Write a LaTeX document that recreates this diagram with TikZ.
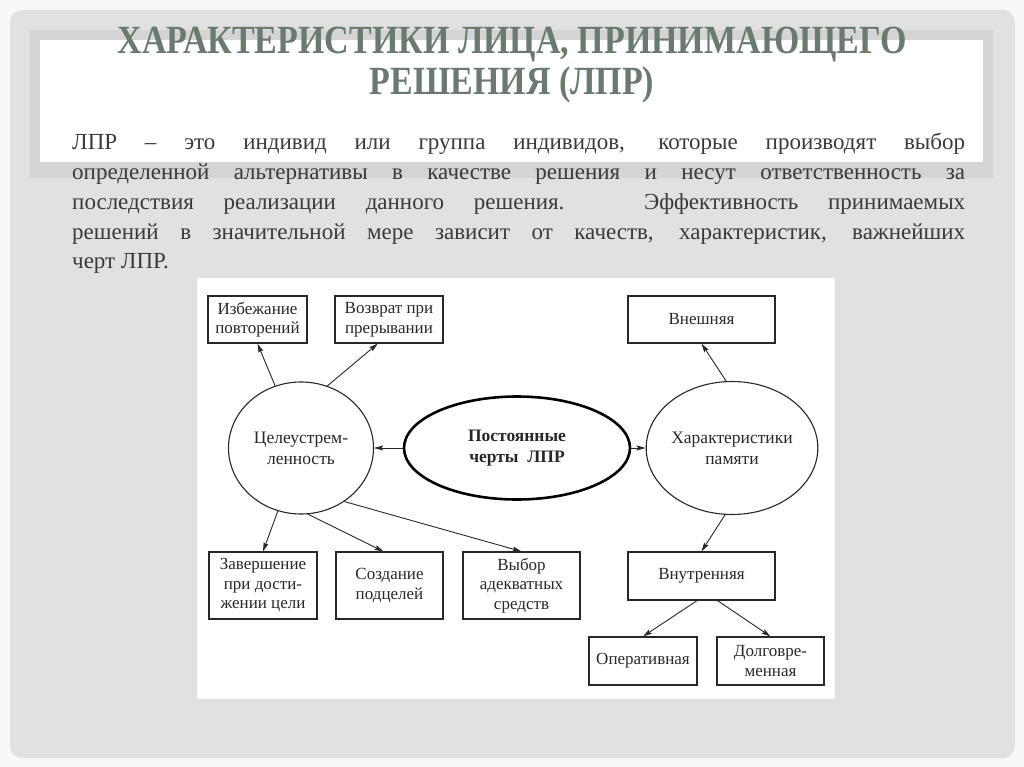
\documentclass[tikz,border=0pt]{standalone}
\usepackage{fontspec}
\setmainfont{Liberation Serif}
\newfontfamily\headfont[FakeStretch=0.85]{Liberation Serif Bold}
\newfontfamily\bodyfont{Liberation Serif}
\usetikzlibrary{arrows.meta,shapes.geometric}
\definecolor{pagegray}{RGB}{248,248,248}
\definecolor{slidegray}{RGB}{225,225,225}
\definecolor{framegray}{RGB}{212,212,212}
\definecolor{headgreen}{RGB}{106,122,110}
\definecolor{bodygray}{RGB}{58,58,58}
\definecolor{inkgray}{RGB}{40,40,40}

\begin{document}
\begin{tikzpicture}[x=1pt, y=-1pt,
  box/.style={draw=inkgray, line width=1.1pt, fill=white, inner sep=0pt, align=center,
    text=inkgray, font=\fontsize{17}{19.5}\selectfont},
  ring/.style={shape=ellipse, draw=inkgray, line width=1.1pt, inner sep=0pt, align=center,
    text=inkgray, font=\fontsize{17.5}{21}\selectfont},
  arr/.style={-{Stealth[length=9pt, width=5pt, inset=1.5pt]}, line width=0.9pt, draw=inkgray}]
\useasboundingbox (0,0) rectangle (1024,767);
% slide
\fill[pagegray] (0,0) rectangle (1024,767);
\fill[slidegray, rounded corners=12pt] (10,10) rectangle (1015,758);
\fill[framegray] (30,30) rectangle (993,178);
\fill[white] (40,40) rectangle (983,162);
\node[anchor=base, align=center, text=headgreen, inner sep=0pt,
  font=\headfont\fontsize{40}{41}\selectfont] (head) at (512,95)
  {ХАРАКТЕРИСТИКИ ЛИЦА, ПРИНИМАЮЩЕГО\\РЕШЕНИЯ (ЛПР)};
\node[anchor=base west, text width=893pt, align=justify, inner sep=0pt, text=bodygray,
  font=\bodyfont\fontsize{23}{29.75}\selectfont] (body) at (72,150)
  {\noindent\hyphenpenalty=10000 ЛПР – это индивид или группа индивидов, которые производят выбор\linebreak
   определенной альтернативы в качестве решения и несут ответственность за\linebreak
   последствия реализации данного решения. Эффективность принимаемых\linebreak
   решений в значительной мере зависит от качеств, характеристик, важнейших\linebreak
   черт ЛПР.};
% diagram
\fill[white] (197,278) rectangle (835,699);
\node[box, minimum width=99pt, minimum height=47pt] (izb) at (257.5,319.5) {Избежание\\повторений};
\node[box, minimum width=108pt, minimum height=47pt] (vozv) at (389,319.5) {Возврат при\\прерывании};
\node[box, minimum width=147pt, minimum height=47pt] (vnesh) at (701.5,319.5) {Внешняя};
\node[ring, minimum width=145pt, minimum height=132pt] (cel) at (301,448) {Целеустрем-\\ленность};
\node[ring, draw=black, line width=2.6pt, minimum width=226pt, minimum height=103pt,
  font=\bfseries\fontsize{17.5}{21}\selectfont] (post) at (517,448) {Постоянные\\черты\ \ ЛПР};
\node[ring, minimum width=148pt, minimum height=133pt] (har) at (732,448) {Характеристики\\памяти};
\node[box, minimum width=108pt, minimum height=67pt] (zav) at (263,585.5) {Завершение\\при дости-\\жении цели};
\node[box, minimum width=107pt, minimum height=67pt] (sozd) at (389.5,585.5) {Создание\\подцелей};
\node[box, minimum width=117pt, minimum height=67pt] (vyb) at (521.5,585.5) {Выбор\\адекватных\\средств};
\node[box, minimum width=147pt, minimum height=48pt] (vnutr) at (701.5,576) {Внутренняя};
\node[box, minimum width=108pt, minimum height=48pt] (oper) at (643,661) {Оперативная};
\node[box, minimum width=107pt, minimum height=48pt] (dolg) at (770.5,661) {Долговре-\\менная};
\path (cel) edge[arr] (izb.south);
\path (cel.67) edge[arr] (vozv.-115);
\path (post) edge[arr] (cel);
\path (post) edge[arr] (har);
\path (har.95) edge[arr] (vnesh.south);
\path (cel) edge[arr] (zav.north);
\path (cel.-84) edge[arr] (sozd.100);
\path (cel.-51) edge[arr] (vyb.north);
\path (har.-96) edge[arr] (vnutr.north);
\path (vnutr.-100) edge[arr] (oper.north);
\path (vnutr.-57) edge[arr] (dolg.north);
\end{tikzpicture}
\end{document}
